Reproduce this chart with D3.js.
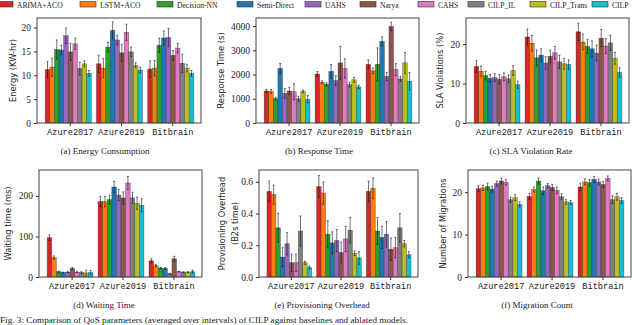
<!DOCTYPE html>
<html><head><meta charset="utf-8">
<script src="https://cdn.jsdelivr.net/npm/d3@7"></script>
<style>body{margin:0;background:#fff;overflow:hidden}</style>
</head><body><svg id="c" width="640" height="325"></svg>
<script>
const categories = ["Azure2017", "Azure2019", "Bitbrain"];
const methods = ["ARIMA+ACO", "LSTM+ACO", "Decision-NN", "Semi-Direct", "UAHS", "Narya", "CAHS", "CILP_IL", "CILP_Trans", "CILP"];
const colors = ["#d62728", "#ff7f0e", "#2ca02c", "#1f77b4", "#9467bd", "#8c564b", "#e377c2", "#7f7f7f", "#bcbd22", "#17becf"];

const energy = [
  [11.2, 11.7, 15.4, 15.3, 18.3, 14.9, 16.6, 11.4, 12.4, 10.4],
  [12.4, 11.5, 15.9, 19.4, 17.4, 14.7, 19.0, 14.9, 12.1, 11.1],
  [11.3, 11.5, 16.3, 17.8, 17.9, 14.2, 15.7, 12.5, 11.5, 10.4]];
const energyErr = [
  [1.7, 1.9, 2.0, 1.0, 1.6, 1.8, 1.2, 1.3, 0.6, 0.6],
  [1.8, 2.0, 1.0, 1.8, 1.0, 1.8, 1.7, 1.0, 0.5, 0.6],
  [1.7, 1.6, 1.5, 1.5, 1.9, 1.0, 1.0, 1.9, 0.8, 0.6]];

const response = [
  [1320, 1300, 1000, 2250, 1220, 1320, 1290, 1000, 1300, 980],
  [2020, 1680, 1600, 2130, 1750, 2480, 2250, 1580, 1780, 1490],
  [2420, 2150, 2420, 3370, 1920, 3980, 2200, 1820, 2480, 1720]];
const responseErr = [
  [60, 80, 50, 200, 200, 150, 330, 100, 60, 150],
  [100, 60, 60, 280, 200, 680, 400, 100, 100, 70],
  [180, 120, 680, 180, 170, 180, 250, 100, 430, 360]];

const sla = [
  [14.3, 13.1, 12.0, 11.3, 11.5, 11.1, 11.7, 11.2, 13.3, 9.7],
  [21.8, 20.2, 16.5, 17.2, 15.2, 16.9, 17.8, 15.5, 15.0, 14.8],
  [23.1, 20.5, 19.4, 18.8, 17.7, 21.5, 19.5, 20.3, 16.4, 12.8]];
const slaErr = [
  [1.5, 1.3, 1.1, 1.0, 1.0, 1.2, 1.0, 1.0, 1.2, 0.9],
  [2.0, 2.0, 2.0, 1.6, 1.6, 1.6, 1.6, 1.7, 1.4, 1.2],
  [2.2, 2.0, 1.8, 2.0, 2.0, 2.2, 1.9, 1.9, 1.5, 1.2]];

const waiting = [
  [97, 48, 13, 11, 12, 21, 12, 11, 10, 11],
  [186, 186, 191, 222, 202, 195, 232, 195, 182, 177],
  [40, 28, 22, 21, 8, 45, 13, 12, 12, 13]];
const waitingErr = [
  [7, 4, 1.5, 1, 1, 2, 1, 2, 7, 5],
  [13, 13, 11, 14, 14, 15, 16, 14, 15, 16],
  [5, 3, 2, 2, 1, 6, 1, 1, 1, 4]];

const provisioning = [
  [0.54, 0.52, 0.31, 0.125, 0.21, 0.09, 0.09, 0.29, 0.09, 0.06],
  [0.57, 0.53, 0.27, 0.215, 0.23, 0.155, 0.24, 0.295, 0.15, 0.12],
  [0.54, 0.56, 0.29, 0.25, 0.27, 0.175, 0.185, 0.31, 0.21, 0.14]];
const provisioningErr = [
  [0.065, 0.06, 0.09, 0.06, 0.07, 0.055, 0.055, 0.095, 0.01, 0.01],
  [0.07, 0.07, 0.085, 0.07, 0.07, 0.065, 0.08, 0.08, 0.015, 0.04],
  [0.065, 0.065, 0.085, 0.07, 0.08, 0.07, 0.065, 0.09, 0.02, 0.02]];

const migrations = [
  [20.8, 21.0, 21.3, 20.7, 22.0, 22.6, 22.3, 18.2, 18.7, 17.1],
  [19.0, 20.6, 22.6, 20.3, 21.5, 21.1, 20.4, 18.9, 17.7, 17.5],
  [21.2, 22.4, 22.2, 23.0, 22.4, 21.8, 23.2, 18.2, 18.9, 18.0]];
const migrationsErr = [
  [0.7, 0.6, 0.8, 0.7, 0.6, 0.7, 0.6, 0.6, 0.7, 0.6],
  [0.7, 0.6, 0.7, 0.9, 0.5, 0.7, 0.8, 0.7, 0.6, 0.5],
  [0.9, 0.7, 0.8, 0.7, 0.7, 0.7, 0.6, 0.9, 0.8, 0.7]];

const panels = [
  {vals: energy, errs: energyErr, ylabel: ["Energy (KW-hr)"], caption: "(a) Energy Consumption", ymax: 22, ticks: [0,5,10,15,20], fmt: d3.format("d"),
   box: [37, 18, 201, 123], ylx: [13]},
  {vals: response, errs: responseErr, ylabel: ["Response Time (s)"], caption: "(b) Response Time", ymax: 4330, ticks: [0,1000,2000,3000,4000], fmt: d3.format("d"),
   box: [256, 18, 419, 123], ylx: [221]},
  {vals: sla, errs: slaErr, ylabel: ["SLA Violations (%)"], caption: "(c) SLA Violation Rate", ymax: 26.6, ticks: [0,10,20], fmt: d3.format("d"),
   box: [466, 18, 629, 123], ylx: [440]},
  {vals: waiting, errs: waitingErr, ylabel: ["Waiting time (ms)"], caption: "(d) Waiting Time", ymax: 264, ticks: [0,100,200], fmt: d3.format("d"),
   box: [39, 170, 202, 277], ylx: [8]},
  {vals: provisioning, errs: provisioningErr, ylabel: ["Provisioning Overhead", "(B2s time)"], caption: "(e) Provisioning Overhead", ymax: 0.675, ticks: [0,0.2,0.4,0.6], fmt: d3.format(".1f"),
   box: [259, 170, 418, 277], ylx: [222, 235]},
  {vals: migrations, errs: migrationsErr, ylabel: ["Number of Migrations"], caption: "(f) Migration Count", ymax: 25.2, ticks: [0,10,20], fmt: d3.format("d"),
   box: [468, 170, 631, 277], ylx: [443]}
];
const captionX = [105, 319, 531, 104, 322, 537];
const legendX = [-3, 80, 157, 237, 305, 360, 418, 468, 530, 592];

const svg = d3.select("#c");
const serif = "'Liberation Serif', 'DejaVu Serif', serif";
const sans = "'DejaVu Sans', 'Liberation Sans', sans-serif";
const mono = "'Liberation Mono', 'DejaVu Sans Mono', monospace";

const W = 0.09, groupOff = -0.03;

panels.forEach((p, pi) => {
  const [x0, y0, x1, y1] = p.box;
  const x = d3.scaleLinear().domain([-0.64, 2.56]).range([x0, x1]);
  const y = d3.scaleLinear().domain([0, p.ymax]).range([y1, y0]);
  const g = svg.append("g");

  categories.forEach((cat, ci) => {
    p.vals[ci].forEach((v, mi) => {
      const cx = ci + groupOff + (mi - 4.5) * W;
      const bx = x(cx - W / 2), bw = x(cx + W / 2) - x(cx - W / 2);
      g.append("rect").attr("x", bx).attr("y", y(v)).attr("width", bw).attr("height", y(0) - y(v))
        .attr("fill", colors[mi]).attr("stroke", "rgba(40,40,40,0.55)").attr("stroke-width", 0.6);
    });
    p.vals[ci].forEach((v, mi) => {
      const cx = x(ci + groupOff + (mi - 4.5) * W);
      const e = p.errs[ci][mi];
      const ec = "rgba(20,20,20,0.75)";
      g.append("line").attr("x1", cx).attr("x2", cx).attr("y1", y(v - e)).attr("y2", y(v + e)).attr("stroke", ec).attr("stroke-width", 0.8);
      [v - e, v + e].forEach(t => g.append("line").attr("x1", cx - 1).attr("x2", cx + 1).attr("y1", y(t)).attr("y2", y(t)).attr("stroke", ec).attr("stroke-width", 0.8));
    });
  });

  g.append("rect").attr("x", x0).attr("y", y0).attr("width", x1 - x0).attr("height", y1 - y0)
    .attr("fill", "none").attr("stroke", "#444").attr("stroke-width", 1);

  const ya = d3.axisLeft(y).tickValues(p.ticks).tickFormat(p.fmt).tickSize(3).tickPadding(3);
  const yg = g.append("g").attr("transform", `translate(${x0},0)`).call(ya);
  yg.select(".domain").remove();
  yg.selectAll("line").attr("stroke", "#333");
  yg.selectAll("text").attr("font-family", serif).attr("font-size", 9.5).attr("fill", "#222");

  const xa = d3.axisBottom(x).tickValues([0, 1, 2]).tickFormat((d) => categories[d]).tickSize(3).tickPadding(3);
  const xg = g.append("g").attr("transform", `translate(0,${y1})`).call(xa);
  xg.select(".domain").remove();
  xg.selectAll("line").attr("stroke", "#333");
  xg.selectAll("text").attr("font-family", mono).attr("font-size", 8.6).attr("fill", "#222");

  const cyl = (y0 + y1) / 2;
  p.ylabel.forEach((t, li) => {
    g.append("text").attr("transform", `translate(${p.ylx[li]},${cyl}) rotate(-90)`)
      .attr("text-anchor", "middle").attr("dominant-baseline", "middle")
      .attr("font-family", sans).attr("font-size", 8.3).attr("fill", "#222").text(t);
  });

  g.append("text").attr("x", captionX[pi]).attr("y", y1 + 30.5).attr("text-anchor", "middle")
    .attr("font-family", serif).attr("font-size", 9).attr("fill", "#222").text(p.caption);
});

const leg = svg.append("g");
methods.forEach((m, i) => {
  const lx = legendX[i];
  leg.append("rect").attr("x", lx).attr("y", 1.5).attr("width", 16).attr("height", 5.5)
    .attr("fill", colors[i]).attr("stroke", "#333").attr("stroke-width", 0.6);
  leg.append("text").attr("x", lx + 20).attr("y", 7.5).attr("font-family", serif)
    .attr("font-size", 7.6).attr("fill", "#222").text(m);
});

svg.append("text").attr("x", 0).attr("y", 322.5).attr("font-family", serif).attr("font-size", 9.2).attr("fill", "#222")
  .text("Fig. 3: Comparison of QoS parameters (averaged over intervals) of CILP against baselines and ablated models.");
</script>
</body></html>
